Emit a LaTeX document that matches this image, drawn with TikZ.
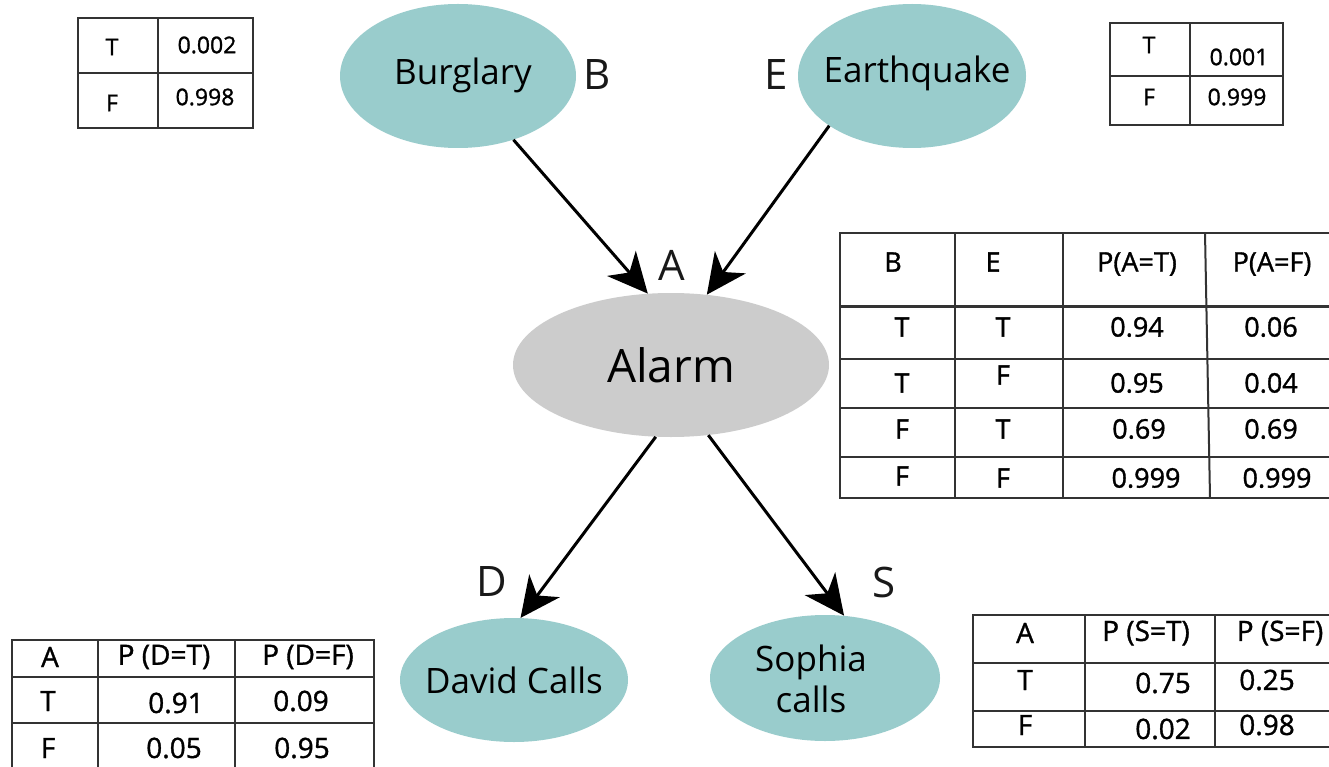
\documentclass[tikz,border=0pt]{standalone}
\usepackage{fontspec}
\setmainfont{Open Sans}
\newfontfamily\tblf[FakeBold=1.2]{Open Sans}
\usetikzlibrary{arrows.meta,shapes.geometric}
\newcommand{\fsz}[1]{\fontsize{#1}{#1}\selectfont}
\definecolor{tealfill}{HTML}{99CCCC}
\definecolor{alarmfill}{HTML}{CCCCCC}
\definecolor{tblline}{HTML}{333333}
\tikzset{
  bnode/.style={ellipse, fill=tealfill, inner sep=0pt, text=black!90, font=\fsz{35}},
  lbl/.style={inner sep=0pt, font=\fsz{42}, text=black!90},
  arr/.style={line width=3pt, -{Stealth[length=40pt,width=38pt,inset=12pt]}},
  tbl/.style={line width=2pt, draw=tblline},
  tsmall/.style={inner sep=0pt, font=\tblf\fsz{23}},
  tmid/.style={inner sep=0pt, font=\tblf\fsz{27}},
  tbig/.style={inner sep=0pt, font=\tblf\fsz{28}},
}
\begin{document}
\begin{tikzpicture}[x=1pt,y=-1pt]
\useasboundingbox[fill=white] (0,0) rectangle (1329,767);

% nodes
\node[bnode, minimum width=236pt, minimum height=144pt] (burg) at (458,76) {};
\node[inner sep=0pt, font=\fsz{35}] (burgt) at (463,75) {Burglary};
\node[bnode, minimum width=228pt, minimum height=144pt] (eq) at (912,76) {};
\node[inner sep=0pt, font=\fsz{35}] (eqt) at (917,73) {Earthquake};
\node[ellipse, fill=alarmfill, inner sep=0pt, minimum width=316pt, minimum height=144pt, font=\fsz{46}] (alarm) at (671,365) {Alarm};
\node[bnode, minimum width=228pt, minimum height=124pt] (david) at (514,680) {};
\node[inner sep=0pt, font=\fsz{35}] (davidt) at (514,680) {David Calls};
\node[bnode, minimum width=230pt, minimum height=126pt] (sophia) at (825,678) {};
\node[inner sep=0pt, font=\fsz{35}, align=center] (sophiat) at (811,679) {Sophia\\[6pt]calls};

% letters
\node[lbl] (lB) at (597,75) {B};
\node[lbl] (lE) at (776,75) {E};
\node[lbl] (lA) at (672,265) {A};
\node[lbl] (lD) at (492,582) {D};
\node[lbl] (lS) at (884,582) {S};

% arrows
\draw[arr] (burg.-49) -- (alarm.108);
\draw[arr] (eq.-149) -- (alarm.63);
\draw[arr] (alarm.-102) -- (david.84);
\draw[arr] (alarm.-62) -- (sophia.73);

% table B
\draw[tbl] (78,18) rectangle (253,128);
\draw[tbl] (158,18) -- (158,128);
\draw[tbl] (78,73) -- (253,73);
\node[tsmall] (b1) at (112,47) {T};
\node[tsmall] (b2) at (207,45) {0.002};
\node[tsmall] (b3) at (112,103) {F};
\node[tsmall] (b4) at (205,97) {0.998};

% table E
\draw[tbl] (1110,23) rectangle (1283,125);
\draw[tbl] (1190,23) -- (1190,125);
\draw[tbl] (1110,76) -- (1283,76);
\node[tsmall] (e1) at (1149,45) {T};
\node[tsmall] (e2) at (1239,57) {0.001};
\node[tsmall] (e3) at (1149,97) {F};
\node[tsmall] (e4) at (1237,97) {0.999};

% table A
\draw[tbl] (1329,233) -- (840,233) -- (840,498) -- (1329,498);
\draw[tbl] (955,233) -- (955,498);
\draw[tbl] (1063,233) -- (1063,498);
\draw[tbl] (1205,233) -- (1210,498);
\draw[line width=3pt, draw=tblline] (840,306) -- (1329,306);
\draw[tbl] (840,359) -- (1329,359);
\draw[tbl] (840,408) -- (1329,408);
\draw[tbl] (840,457) -- (1329,457);
\node[tmid] (a01) at (893,262) {B};
\node[tmid] (a02) at (993,262) {E};
\node[tmid] (a03) at (1137,264) {P(A=T)};
\node[tmid] (a04) at (1272,264) {P(A=F)};
\node[tmid] (a11) at (902,327) {T};
\node[tmid] (a12) at (1003,327) {T};
\node[tmid] (a13) at (1137,327) {0.94};
\node[tmid] (a14) at (1271,327) {0.06};
\node[tmid] (a21) at (902,383) {T};
\node[tmid] (a22) at (1003,375) {F};
\node[tmid] (a23) at (1137,383) {0.95};
\node[tmid] (a24) at (1271,383) {0.04};
\node[tmid] (a31) at (902,429) {F};
\node[tmid] (a32) at (1003,429) {T};
\node[tmid] (a33) at (1139,429) {0.69};
\node[tmid] (a34) at (1271,429) {0.69};
\node[tmid] (a41) at (902,476) {F};
\node[tmid] (a42) at (1003,478) {F};
\node[tmid] (a43) at (1146,478) {0.999};
\node[tmid] (a44) at (1277,478) {0.999};

% table D
\draw[tbl] (12,767) -- (12,640) -- (374,640) -- (374,767);
\draw[tbl] (98,640) -- (98,767);
\draw[tbl] (235,640) -- (235,767);
\draw[tbl] (12,677) -- (374,677);
\draw[tbl] (12,723) -- (374,723);
\node[tbig] (d01) at (50,657) {A};
\node[tbig] (d02) at (164,657) {P (D=T)};
\node[tbig] (d03) at (308,657) {P (D=F)};
\node[tbig] (d11) at (48,701) {T};
\node[tbig] (d12) at (176,703) {0.91};
\node[tbig] (d13) at (301,701) {0.09};
\node[tbig] (d21) at (48,748) {F};
\node[tbig] (d22) at (174,748) {0.05};
\node[tbig] (d23) at (302,748) {0.95};

% table S
\draw[tbl] (1329,615) -- (973,615) -- (973,747) -- (1329,747);
\draw[tbl] (1085,615) -- (1085,747);
\draw[tbl] (1215,615) -- (1215,747);
\draw[tbl] (973,663) -- (1329,663);
\draw[tbl] (973,711) -- (1329,711);
\node[tbig] (s01) at (1025,633) {A};
\node[tbig] (s02) at (1146,633) {P (S=T)};
\node[tbig] (s03) at (1280,633) {P (S=F)};
\node[tbig] (s11) at (1025,680) {T};
\node[tbig] (s12) at (1163,683) {0.75};
\node[tbig] (s13) at (1267,680) {0.25};
\node[tbig] (s21) at (1025,725) {F};
\node[tbig] (s22) at (1163,729) {0.02};
\node[tbig] (s23) at (1267,725) {0.98};
\end{tikzpicture}
\end{document}
